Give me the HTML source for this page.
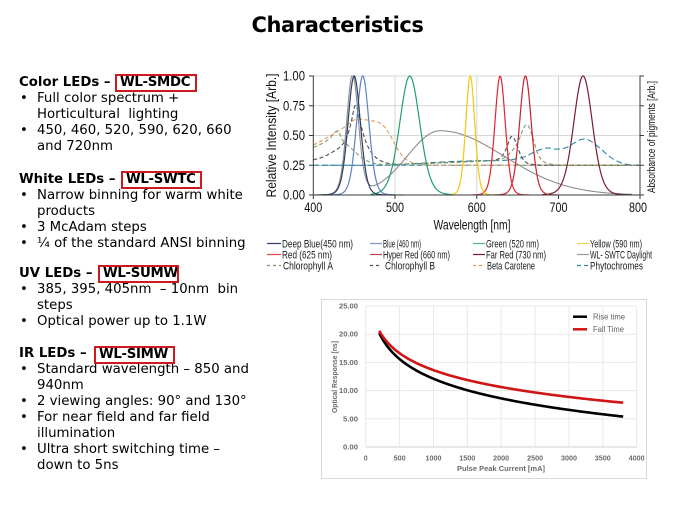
<!DOCTYPE html>
<html><head><meta charset="utf-8"><style>
html,body{margin:0;padding:0;background:#fff;}
body{width:675px;height:506px;position:relative;overflow:hidden;}
.title{position:absolute;left:0;top:12.5px;width:675px;text-align:center;font:bold 21px/24px "DejaVu Sans","Liberation Sans",sans-serif;letter-spacing:-0.4px;color:#000;}
.blk{position:absolute;left:19px;font:13.3px/16px "DejaVu Sans","Liberation Sans",sans-serif;color:#000;white-space:nowrap;}
.h{font-weight:bold;}
.li,.l2{padding-left:18px;position:relative;}
.b{position:absolute;left:1px;top:0;}
.box{position:absolute;border:2px solid #cc1a1f;box-sizing:border-box;font:bold 13.3px/14px "DejaVu Sans","Liberation Sans",sans-serif;letter-spacing:-0.3px;color:#000;padding-left:3px;white-space:nowrap;overflow:hidden;}
svg{position:absolute;left:0;top:0;}
svg text{font-family:"Liberation Sans",Arial,sans-serif;}
</style></head><body>
<div class="title">Characteristics</div>

<div class="blk" style="top:75px">
<div class="h">Color LEDs –</div>
<div class="li"><span class="b">•</span>Full color spectrum +</div>
<div class="l2">Horticultural&nbsp; lighting</div>
<div class="li"><span class="b">•</span>450, 460, 520, 590, 620, 660</div>
<div class="l2">and 720nm</div>
</div>
<div class="box" style="left:115px;top:74px;width:82px;height:18px;">WL-SMDC</div>

<div class="blk" style="top:172px">
<div class="h">White LEDs –</div>
<div class="li"><span class="b">•</span>Narrow binning for warm white</div>
<div class="l2">products</div>
<div class="li"><span class="b">•</span>3 McAdam steps</div>
<div class="li"><span class="b">•</span>¼ of the standard ANSI binning</div>
</div>
<div class="box" style="left:121px;top:171px;width:81px;height:18px;">WL-SWTC</div>

<div class="blk" style="top:266px">
<div class="h">UV LEDs –</div>
<div class="li"><span class="b">•</span>385, 395, 405nm&nbsp; – 10nm&nbsp; bin</div>
<div class="l2">steps</div>
<div class="li"><span class="b">•</span>Optical power up to 1.1W</div>
</div>
<div class="box" style="left:98px;top:265px;width:81px;height:18px;">WL-SUMW</div>

<div class="blk" style="top:346px">
<div class="h">IR LEDs –</div>
<div class="li"><span class="b">•</span>Standard wavelength – 850 and</div>
<div class="l2">940nm</div>
<div class="li"><span class="b">•</span>2 viewing angles: 90° and 130°</div>
<div class="li"><span class="b">•</span>For near field and far field</div>
<div class="l2">illumination</div>
<div class="li"><span class="b">•</span>Ultra short switching time –</div>
<div class="l2">down to 5ns</div>
</div>
<div class="box" style="left:94px;top:346px;width:81px;height:18px;">WL-SIMW</div>

<svg id="c" width="675" height="506" viewBox="0 0 675 506">
<g stroke="#d6d6d6" stroke-width="1">
<line x1="313.3" y1="76" x2="640" y2="76"/>
<line x1="313.3" y1="105.75" x2="640" y2="105.75"/>
<line x1="313.3" y1="135.5" x2="640" y2="135.5"/>
<line x1="313.3" y1="165.25" x2="640" y2="165.25"/>
<line x1="395" y1="76" x2="395" y2="195"/>
<line x1="476.8" y1="76" x2="476.8" y2="195"/>
<line x1="558.5" y1="76" x2="558.5" y2="195"/>
</g>
<g id="plot"></g>
<g stroke="#3a3a3a" stroke-width="1" fill="none">
<line x1="313.3" y1="75.5" x2="313.3" y2="195"/>
<line x1="313.3" y1="195" x2="640" y2="195"/>
<line x1="640" y1="75.5" x2="640" y2="195"/>
<line x1="309" y1="76" x2="313.3" y2="76"/>
<line x1="309" y1="105.75" x2="313.3" y2="105.75"/>
<line x1="309" y1="135.5" x2="313.3" y2="135.5"/>
<line x1="309" y1="165.25" x2="313.3" y2="165.25"/>
<line x1="309" y1="195" x2="313.3" y2="195"/>
<line x1="640" y1="76" x2="644" y2="76"/>
<line x1="640" y1="105.75" x2="644" y2="105.75"/>
<line x1="640" y1="135.5" x2="644" y2="135.5"/>
<line x1="640" y1="165.25" x2="644" y2="165.25"/>
<line x1="640" y1="195" x2="644" y2="195"/>
<line x1="313.3" y1="195" x2="313.3" y2="199"/>
<line x1="395" y1="195" x2="395" y2="199"/>
<line x1="476.8" y1="195" x2="476.8" y2="199"/>
<line x1="558.5" y1="195" x2="558.5" y2="199"/>
<line x1="640" y1="195" x2="640" y2="199"/>
</g>
<g font-size="13.5" fill="#111" text-anchor="end">
<text x="305" y="80.7" textLength="22" lengthAdjust="spacingAndGlyphs">1.00</text>
<text x="305" y="110.4" textLength="22" lengthAdjust="spacingAndGlyphs">0.75</text>
<text x="305" y="140.2" textLength="22" lengthAdjust="spacingAndGlyphs">0.50</text>
<text x="305" y="169.9" textLength="22" lengthAdjust="spacingAndGlyphs">0.25</text>
<text x="305" y="199.7" textLength="22" lengthAdjust="spacingAndGlyphs">0.00</text>
</g>
<g font-size="13.5" fill="#111" text-anchor="middle">
<text x="313.3" y="212" textLength="18" lengthAdjust="spacingAndGlyphs">400</text>
<text x="395" y="212" textLength="18" lengthAdjust="spacingAndGlyphs">500</text>
<text x="476.8" y="212" textLength="18" lengthAdjust="spacingAndGlyphs">600</text>
<text x="558.5" y="212" textLength="18" lengthAdjust="spacingAndGlyphs">700</text>
<text x="638" y="212" textLength="18" lengthAdjust="spacingAndGlyphs">800</text>
<text x="472" y="229.5" font-size="14" textLength="77" lengthAdjust="spacingAndGlyphs">Wavelength [nm]</text>
</g>
<text transform="translate(276,135.5) rotate(-90)" font-size="14" fill="#111" text-anchor="middle" textLength="124" lengthAdjust="spacingAndGlyphs">Relative Intensity [Arb.]</text>
<text transform="translate(655,137) rotate(-90)" font-size="11" fill="#111" text-anchor="middle" textLength="112" lengthAdjust="spacingAndGlyphs">Absorbance of pigments [Arb.]</text>

<g stroke-width="1.2" fill="none">
<line x1="267" y1="243.5" x2="281" y2="243.5" stroke="#2c3e63"/>
<line x1="370" y1="243.5" x2="382" y2="243.5" stroke="#7c98c8"/>
<line x1="473" y1="243.5" x2="485" y2="243.5" stroke="#4fb48a"/>
<line x1="577" y1="243.5" x2="589" y2="243.5" stroke="#f0cf5a"/>
<line x1="267" y1="254.5" x2="281" y2="254.5" stroke="#e3454b"/>
<line x1="370" y1="254.5" x2="382" y2="254.5" stroke="#c8404a"/>
<line x1="473" y1="254.5" x2="485" y2="254.5" stroke="#7b1b33"/>
<line x1="577" y1="254.5" x2="589" y2="254.5" stroke="#9a9a9a"/>
<line x1="267" y1="265.5" x2="281" y2="265.5" stroke="#7a9a6a" stroke-dasharray="3,3"/>
<line x1="370" y1="265.5" x2="382" y2="265.5" stroke="#4a5050" stroke-dasharray="3,3"/>
<line x1="473" y1="265.5" x2="485" y2="265.5" stroke="#e09a5a" stroke-dasharray="3,3"/>
<line x1="577" y1="265.5" x2="589" y2="265.5" stroke="#2e8aa8" stroke-dasharray="4,3"/>
</g>
<g font-size="11" fill="#1a1a1a">
<text x="282" y="247.5" textLength="71" lengthAdjust="spacingAndGlyphs">Deep Blue(450 nm)</text>
<text x="383" y="247.5" textLength="38" lengthAdjust="spacingAndGlyphs">Blue (460 nm)</text>
<text x="486" y="247.5" textLength="53" lengthAdjust="spacingAndGlyphs">Green (520 nm)</text>
<text x="590" y="247.5" textLength="52" lengthAdjust="spacingAndGlyphs">Yellow (590 nm)</text>
<text x="282" y="258.5" textLength="50" lengthAdjust="spacingAndGlyphs">Red (625 nm)</text>
<text x="383" y="258.5" textLength="67" lengthAdjust="spacingAndGlyphs">Hyper Red (660 nm)</text>
<text x="486" y="258.5" textLength="60" lengthAdjust="spacingAndGlyphs">Far Red (730 nm)</text>
<text x="590" y="258.5" textLength="62" lengthAdjust="spacingAndGlyphs">WL- SWTC Daylight</text>
<text x="283" y="269.5" textLength="50" lengthAdjust="spacingAndGlyphs">Chlorophyll A</text>
<text x="385" y="269.5" textLength="50" lengthAdjust="spacingAndGlyphs">Chlorophyll B</text>
<text x="487" y="269.5" textLength="48" lengthAdjust="spacingAndGlyphs">Beta Carotene</text>
<text x="590" y="269.5" textLength="53" lengthAdjust="spacingAndGlyphs">Phytochromes</text>
</g>

<rect x="321.5" y="299.5" width="325" height="179" fill="#fff" stroke="#d9d9d9" stroke-width="1"/>
<g stroke="#e8e8e8" stroke-width="1">
<line x1="365.7" y1="306" x2="636.7" y2="306"/>
<line x1="365.7" y1="334.2" x2="636.7" y2="334.2"/>
<line x1="365.7" y1="362.4" x2="636.7" y2="362.4"/>
<line x1="365.7" y1="390.6" x2="636.7" y2="390.6"/>
<line x1="365.7" y1="418.8" x2="636.7" y2="418.8"/>
<line x1="365.7" y1="306" x2="365.7" y2="447"/>
<line x1="399.6" y1="306" x2="399.6" y2="447"/>
<line x1="433.5" y1="306" x2="433.5" y2="447"/>
<line x1="467.3" y1="306" x2="467.3" y2="447"/>
<line x1="501.2" y1="306" x2="501.2" y2="447"/>
<line x1="535.1" y1="306" x2="535.1" y2="447"/>
<line x1="569" y1="306" x2="569" y2="447"/>
<line x1="602.8" y1="306" x2="602.8" y2="447"/>
<line x1="636.7" y1="306" x2="636.7" y2="447"/>
</g>
<line x1="365.7" y1="447" x2="636.7" y2="447" stroke="#d0d0d0" stroke-width="1"/>
<g id="plot2"></g>
<g font-size="7" font-weight="bold" fill="#6a6a6a" text-anchor="end">
<text x="358" y="308.5" textLength="19" lengthAdjust="spacingAndGlyphs">25.00</text>
<text x="358" y="336.7" textLength="19" lengthAdjust="spacingAndGlyphs">20.00</text>
<text x="358" y="364.9" textLength="19" lengthAdjust="spacingAndGlyphs">15.00</text>
<text x="358" y="393.1" textLength="19" lengthAdjust="spacingAndGlyphs">10.00</text>
<text x="358" y="421.3" textLength="15" lengthAdjust="spacingAndGlyphs">5.00</text>
<text x="358" y="449.5" textLength="15" lengthAdjust="spacingAndGlyphs">0.00</text>
</g>
<g font-size="7" font-weight="bold" fill="#6a6a6a" text-anchor="middle">
<text x="365.7" y="460.5">0</text>
<text x="399.6" y="460.5" textLength="12" lengthAdjust="spacingAndGlyphs">500</text>
<text x="433.5" y="460.5" textLength="16" lengthAdjust="spacingAndGlyphs">1000</text>
<text x="467.3" y="460.5" textLength="16" lengthAdjust="spacingAndGlyphs">1500</text>
<text x="501.2" y="460.5" textLength="16" lengthAdjust="spacingAndGlyphs">2000</text>
<text x="535.1" y="460.5" textLength="16" lengthAdjust="spacingAndGlyphs">2500</text>
<text x="569" y="460.5" textLength="16" lengthAdjust="spacingAndGlyphs">3000</text>
<text x="602.8" y="460.5" textLength="16" lengthAdjust="spacingAndGlyphs">3500</text>
<text x="636.7" y="460.5" textLength="16" lengthAdjust="spacingAndGlyphs">4000</text>
<text x="501" y="471" font-size="7.5" textLength="88" lengthAdjust="spacingAndGlyphs">Pulse Peak Current [mA]</text>
</g>
<text transform="translate(337,377) rotate(-90)" font-size="7.5" font-weight="bold" fill="#6a6a6a" text-anchor="middle" textLength="72" lengthAdjust="spacingAndGlyphs">Optical Response [ns]</text>
<line x1="573" y1="316.7" x2="587" y2="316.7" stroke="#000" stroke-width="2.5"/>
<line x1="573" y1="329.3" x2="587" y2="329.3" stroke="#d01515" stroke-width="2.5"/>
<g font-size="8" fill="#606060">
<text x="593" y="319.5" textLength="32" lengthAdjust="spacingAndGlyphs">Rise time</text>
<text x="593" y="332.2" textLength="31" lengthAdjust="spacingAndGlyphs">Fall Time</text>
</g>
</svg>

<script>
(function(){
var NS="http://www.w3.org/2000/svg";
function X(n){return 313.3+(n-400)*0.8175;}
function Y(v){return 195-v*119;}
function addPath(g,pts,color,w,dash){
  var p=document.createElementNS(NS,'path');
  var d='';
  for(var i=0;i<pts.length;i++){d+=(i?'L':'M')+pts[i][0].toFixed(2)+','+pts[i][1].toFixed(2);}
  p.setAttribute('d',d);p.setAttribute('fill','none');p.setAttribute('stroke',color);
  p.setAttribute('stroke-width',w);p.setAttribute('stroke-linejoin','round');
  if(dash)p.setAttribute('stroke-dasharray',dash);
  g.appendChild(p);
}
function led(c,fw){
  var s=fw/2.3548,w=fw/1.7627;
  return function(n){var d=n-c;var g=Math.exp(-d*d/(2*s*s));var ch=Math.cosh(d/w);return 0.55*g+0.45/(ch*ch);};
}
function spline(P){
  return function(n){
    var i=0;while(i<P.length-2&&n>P[i+1][0])i++;
    var p0=P[Math.max(i-1,0)],p1=P[i],p2=P[i+1],p3=P[Math.min(i+2,P.length-1)];
    var dx=p2[0]-p1[0];var t=(n-p1[0])/dx;
    var m1=(p2[1]-p0[1])/(p2[0]-p0[0])*dx;
    var m2=(p3[1]-p1[1])/(p3[0]-p1[0])*dx;
    var t2=t*t,t3=t2*t;
    return (2*t3-3*t2+1)*p1[1]+(t3-2*t2+t)*m1+(-2*t3+3*t2)*p2[1]+(t3-t2)*m2;
  };
}
function sample(f,a,b){var r=[];for(var n=a;n<=b+1e-6;n+=0.5){var v=f(n);if(v<0)v=0;if(v>1)v=1;r.push([X(n),Y(v)]);}return r;}
var g=document.getElementById('plot');

addPath(g,[[X(400),Y(0.25)],[X(800),Y(0.25)]],'#2e8aa8',1.1,'5,3');

var beta=spline([[400,0.42],[410,0.455],[420,0.495],[430,0.535],[440,0.58],[450,0.63],[460,0.635],[470,0.625],[480,0.61],[488,0.565],[495,0.49],[502,0.40],[510,0.32],[520,0.275],[532,0.258],[550,0.252],[800,0.25]]);
var chlA=spline([[400,0.40],[410,0.43],[420,0.475],[427,0.53],[431,0.53],[436,0.46],[442,0.42],[450,0.37],[460,0.31],[472,0.27],[488,0.255],[510,0.258],[550,0.268],[600,0.282],[620,0.29],[633,0.31],[643,0.37],[650,0.44],[656,0.54],[660,0.59],[664,0.57],[669,0.47],[675,0.34],[682,0.28],[692,0.258],[710,0.25],[800,0.25]]);
var chlB=spline([[400,0.295],[412,0.32],[422,0.355],[432,0.40],[440,0.47],[446,0.60],[451,0.75],[455,0.69],[460,0.54],[466,0.42],[473,0.34],[482,0.29],[495,0.262],[520,0.262],[560,0.272],[600,0.285],[620,0.292],[630,0.32],[636,0.39],[641,0.48],[644,0.49],[648,0.44],[654,0.33],[660,0.275],[670,0.256],[690,0.25],[800,0.25]]);
var phy=spline([[400,0.25],[480,0.25],[520,0.262],[560,0.278],[600,0.288],[630,0.29],[645,0.30],[660,0.325],[673,0.37],[686,0.395],[698,0.385],[710,0.40],[720,0.44],[730,0.47],[740,0.45],[752,0.385],[764,0.315],[776,0.272],[788,0.253],[800,0.25]]);

addPath(g,sample(beta,400,800),'#e09a5a',1.1,'4,2.5');
addPath(g,sample(phy,400,800),'#2e8aa8',1.1,'6,3');
addPath(g,sample(chlB,400,800),'#4a5050',1.1,'4,2.5');
addPath(g,sample(chlA,400,800),'#7f9a6c',1.1,'4,2.5');

function daylight(n){
  var b=led(448,17)(n);
  var d=n-555,s=d<0?40:78;
  return b+0.54*Math.exp(-d*d/(2*s*s));
}
addPath(g,sample(daylight,400,790),'#8c8c8c',1.1);
addPath(g,sample(led(730,27),680,790),'#7b1b33',1.2);
addPath(g,sample(led(659.5,17),620,700),'#c8202f',1.2);
addPath(g,sample(led(628.5,15),595,665),'#e3242b',1.2);
addPath(g,sample(led(592,13),560,625),'#f2c80f',1.2);
addPath(g,sample(led(518,29),470,570),'#22a06b',1.2);
addPath(g,sample(led(460.5,18),410,510),'#5f82c0',1.2);
addPath(g,sample(led(450,18),405,500),'#2c3e63',1.2);

var g2=document.getElementById('plot2');
function XB(I){return 365.7+I*271/4000;}
function YB(v){return 447-v*5.64;}
var r=[],f=[];
for(var I=200;I<=3800;I+=20){
  var L=Math.log(I/200);
  r.push([XB(I),YB(20.2-5.03*L)]);
  f.push([XB(I),YB(20.6-4.33*L)]);
}
addPath(g2,r,'#000',2.6);
addPath(g2,f,'#d01515',2.6);
})();
</script>
</body></html>
